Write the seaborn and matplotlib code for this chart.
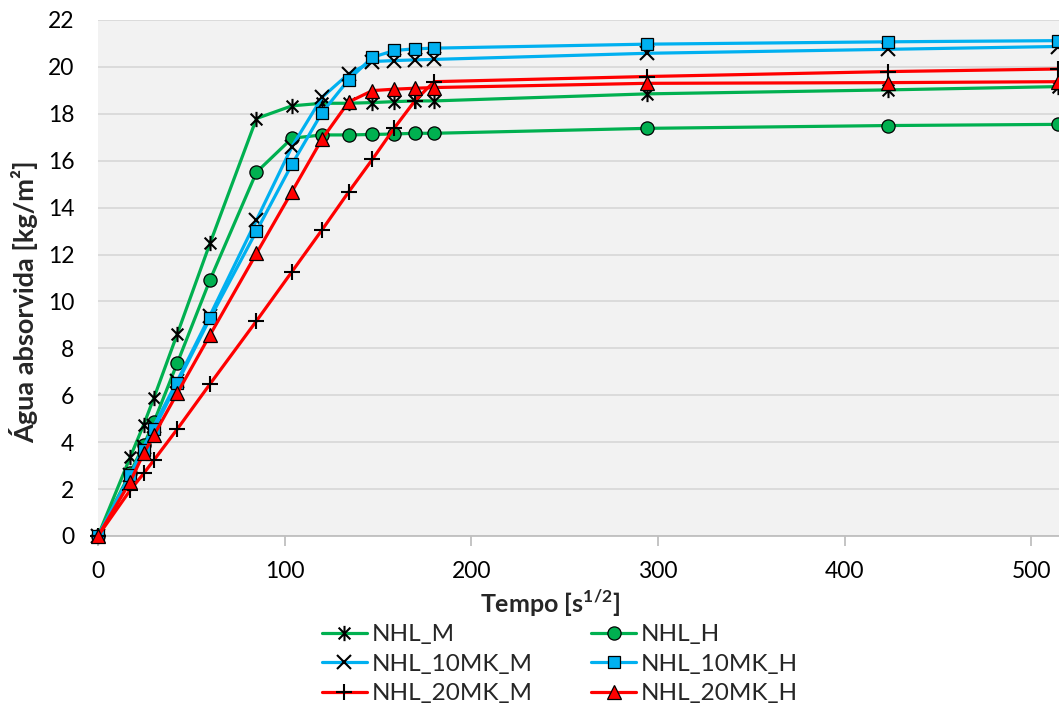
import numpy as np
import pandas as pd
import matplotlib
matplotlib.use("Agg")
import matplotlib.pyplot as plt
from matplotlib.path import Path
import seaborn as sns

# raiz do tempo [s^1/2]
tempo = [0, 17.3, 24.5, 30, 42.4, 60, 84.9, 103.9, 120, 134.2, 147, 158.7,
         169.7, 180, 293.9, 423, 514]

nhl_m = [0, 3.37, 4.75, 5.9, 8.6, 12.48, 17.8, 18.34, 18.45, 18.45, 18.48,
         18.52, 18.55, 18.55, 18.85, 19.02, 19.16]
nhl_h = [0, 2.7, 3.88, 4.87, 7.36, 10.92, 15.51, 16.96, 17.1, 17.1, 17.12,
         17.14, 17.17, 17.17, 17.38, 17.5, 17.55]
nhl_10mk_m = [0, 2.6, 3.8, 4.7, 6.6, 9.4, 13.47, 16.6, 18.7, 19.7, 20.23,
              20.27, 20.3, 20.32, 20.58, 20.75, 20.87]
nhl_10mk_h = [0, 2.6, 3.67, 4.55, 6.51, 9.28, 13.0, 15.85, 18.05, 19.45,
              20.41, 20.7, 20.77, 20.8, 20.97, 21.07, 21.12]
nhl_20mk_m = [0, 1.96, 2.67, 3.24, 4.55, 6.48, 9.17, 11.27, 13.05, 14.66,
              16.06, 17.39, 18.55, 19.37, 19.59, 19.8, 19.91]
nhl_20mk_h = [0, 2.32, 3.53, 4.3, 6.08, 8.57, 12.05, 14.68, 16.92, 18.5,
              18.99, 19.05, 19.09, 19.12, 19.3, 19.33, 19.37]

series_names = ["NHL_M", "NHL_H", "NHL_10MK_M", "NHL_10MK_H", "NHL_20MK_M", "NHL_20MK_H"]
series_values = [nhl_m, nhl_h, nhl_10mk_m, nhl_10mk_h, nhl_20mk_m, nhl_20mk_h]

df = pd.DataFrame({"Tempo": tempo})
for name, vals in zip(series_names, series_values):
    df[name] = vals

# asterisco estilo Excel (x + barra vertical)
asterisk = Path([(-1, -1), (1, 1), (-1, 1), (1, -1), (0, -1.3), (0, 1.3)],
                [Path.MOVETO, Path.LINETO, Path.MOVETO, Path.LINETO, Path.MOVETO, Path.LINETO])

green = "#00B050"
blue = "#00B0F0"
red = "#FF0000"
styles = {
    "NHL_M": dict(color=green, marker=asterisk, mfc="black", ms=11, mew=1.5),
    "NHL_H": dict(color=green, marker="o", mfc=green, ms=9.5, mew=0.9),
    "NHL_10MK_M": dict(color=blue, marker="x", mfc="black", ms=9.5, mew=1.5),
    "NHL_10MK_H": dict(color=blue, marker="s", mfc=blue, ms=9, mew=0.9),
    "NHL_20MK_M": dict(color=red, marker="+", mfc="black", ms=11.5, mew=1.5),
    "NHL_20MK_H": dict(color=red, marker="^", mfc=red, ms=10, mew=0.9),
}

sns.set_style("white")
plt.rcParams["font.family"] = ["Lato", "DejaVu Sans"]
plt.rcParams["mathtext.fontset"] = "custom"
plt.rcParams["mathtext.rm"] = "Lato"
plt.rcParams["mathtext.bf"] = "Lato:bold"

fig = plt.figure(figsize=(10.59, 7.03), dpi=100)
ax = fig.add_axes([98 / 1059, 1 - 536 / 703, 1 - 98 / 1059, (536 - 20) / 703])
ax.set_facecolor("#F2F2F2")

for name in series_names:
    st = styles[name]
    sns.lineplot(data=df, x="Tempo", y=name, ax=ax, label=name,
                 color=st["color"], linewidth=2.3, marker=st["marker"],
                 markersize=st["ms"], markerfacecolor=st["mfc"],
                 markeredgecolor="black", markeredgewidth=st["mew"],
                 clip_on=False, zorder=3)

ax.set_xlim(0, 514.8)
ax.set_ylim(0, 22)
ax.set_xticks(range(0, 501, 100))
ax.set_yticks(range(0, 23, 2))
ax.grid(axis="y", color="#D9D9D9", linewidth=1.3)
ax.grid(axis="x", visible=False)
for s in ["top", "right", "left"]:
    ax.spines[s].set_visible(False)
ax.spines["bottom"].set_color("#BFBFBF")
ax.spines["bottom"].set_linewidth(1.3)
ax.tick_params(axis="x", length=7, width=1.3, color="#BFBFBF", pad=11,
               labelsize=16.5, labelcolor="black", direction="out", bottom=True)
ax.tick_params(axis="y", length=0, pad=17, labelsize=16.5, labelcolor="black")

ax.set_ylabel("Água absorvida [kg/m²]", fontsize=19.5, fontweight="bold")
ax.yaxis.set_label_coords(-0.062, 0.455)
ax.set_xlabel(r"Tempo [s$^{\mathbf{1/2}}$]", fontsize=18, fontweight="bold")
ax.xaxis.set_label_coords(0.47, -0.1)

handles, labels = ax.get_legend_handles_labels()
ax.get_legend().remove()
order = [0, 2, 4, 1, 3, 5]
fig.legend([handles[i] for i in order], [labels[i] for i in order],
           ncol=2, loc="upper left", bbox_to_anchor=(322 / 1059, 1 - 624 / 703),
           frameon=False, fontsize=17.5, handlelength=1.85, handletextpad=0.2,
           columnspacing=2.4, labelspacing=0.35, borderpad=0, borderaxespad=0)

fig.savefig("out.png", dpi=100)
